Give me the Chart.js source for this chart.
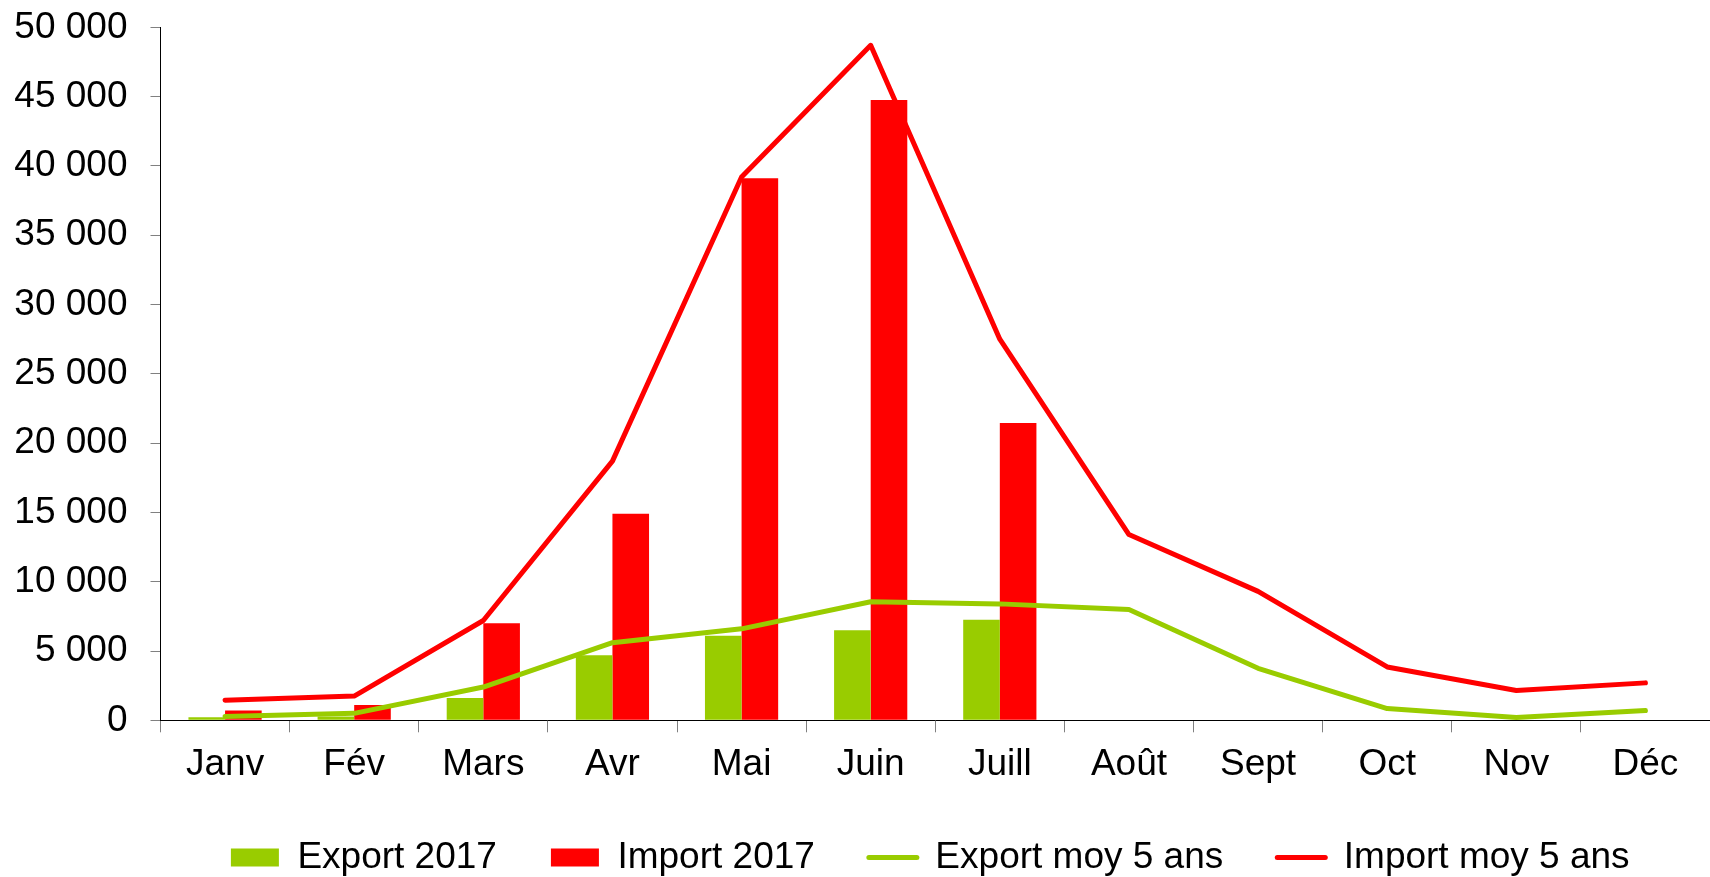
<!DOCTYPE html>
<html>
<head>
<meta charset="utf-8">
<script src="https://cdn.jsdelivr.net/npm/chart.js@4/dist/chart.umd.min.js"></script>
<style>
  html, body { margin: 0; padding: 0; background: #ffffff; overflow: hidden; }
  #wrap { width: 1710px; height: 877px; }
</style>
</head>
<body>
<div id="wrap"><canvas id="c" width="1710" height="877"></canvas></div>
<script>
const months = ['Janv', 'Fév', 'Mars', 'Avr', 'Mai', 'Juin', 'Juill', 'Août', 'Sept', 'Oct', 'Nov', 'Déc'];
const export2017 = [220, 280, 1600, 4700, 6100, 6500, 7250, null, null, null, null, null];
const import2017 = [700, 1100, 7000, 14900, 39100, 44750, 21450, null, null, null, null, null];
const exportMoy5 = [280, 500, 2400, 5600, 6600, 8550, 8400, 8000, 3750, 850, 200, 700];
const importMoy5 = [1450, 1750, 7200, 18700, 39200, 48700, 27500, 13400, 9300, 3850, 2150, 2700];
const yTicks = { min: 0, max: 50000, step: 5000 };

const GREEN = '#99CC00';
const RED = '#FF0000';
const FONT = "'Liberation Sans', Arial, sans-serif";

Chart.defaults.font.family = FONT;
Chart.defaults.color = '#000000';

const defaultGen = Chart.defaults.plugins.legend.labels.generateLabels;

const legendShift = {
  id: 'legendShift',
  afterLayout(chart) {
    if (chart.legend) { chart.legend.left -= 10; }
  }
};

new Chart(document.getElementById('c'), {
  type: 'bar',
  data: {
    labels: months,
    datasets: [
      { type: 'bar', label: 'Export 2017', data: export2017, backgroundColor: GREEN, borderWidth: 0, order: 5 },
      { type: 'bar', label: 'Import 2017', data: import2017, backgroundColor: RED, borderWidth: 0, order: 5 },
      { type: 'line', label: 'Export moy 5 ans', data: exportMoy5, borderColor: GREEN, backgroundColor: GREEN,
        borderWidth: 5, pointRadius: 0, pointHoverRadius: 0, borderCapStyle: 'round', borderJoinStyle: 'round',
        tension: 0, fill: false, order: 1 },
      { type: 'line', label: 'Import moy 5 ans', data: importMoy5, borderColor: RED, backgroundColor: RED,
        borderWidth: 5, pointRadius: 0, pointHoverRadius: 0, borderCapStyle: 'round', borderJoinStyle: 'round',
        tension: 0, fill: false, order: 1 }
    ]
  },
  options: {
    responsive: false,
    animation: false,
    events: [],
    layout: { padding: { top: 27.3, right: -17, bottom: 0, left: 0 } },
    datasets: {
      bar: { categoryPercentage: 0.567, barPercentage: 1.0 }
    },
    scales: {
      x: {
        offset: true,
        grid: { offset: true, drawOnChartArea: false, drawTicks: true, tickLength: 12, color: '#808080', lineWidth: 1 },
        border: { display: true, color: '#000000', width: 1 },
        ticks: { font: { size: 37, family: FONT }, color: '#000000', padding: 10, maxRotation: 0, autoSkip: false },
        afterFit(s) { s.height = 64.7; s.paddingLeft = 0; s.paddingRight = 0; }
      },
      y: {
        min: yTicks.min,
        max: yTicks.max,
        grid: { drawOnChartArea: false, drawTicks: true, tickLength: 10, color: '#808080', lineWidth: 1 },
        border: { display: true, color: '#000000', width: 1 },
        ticks: {
          stepSize: yTicks.step,
          font: { size: 37, family: FONT },
          color: '#000000',
          padding: 23,
          callback: (v) => String(v).replace(/\B(?=(\d{3})+(?!\d))/g, ' ')
        },
        afterFit(s) { s.width = 160.5; s.paddingTop = 0; s.paddingBottom = 0; }
      }
    },
    plugins: {
      tooltip: { enabled: false },
      legend: {
        position: 'bottom',
        fullSize: false,
        maxHeight: 92,
        labels: {
          font: { size: 37, family: FONT },
          color: '#000000',
          padding: 54,
          usePointStyle: true,
          pointStyleWidth: 48,
          boxHeight: 18,
          sort: (a, b) => a.datasetIndex - b.datasetIndex,
          generateLabels(chart) {
            const items = defaultGen(chart);
            items.forEach(it => {
              const ds = chart.data.datasets[it.datasetIndex];
              if (ds.type === 'line') {
                it.pointStyle = 'line';
                it.strokeStyle = ds.borderColor;
                it.fillStyle = ds.borderColor;
                it.lineWidth = 5;
                it.lineCap = 'round';
              } else {
                it.pointStyle = 'rect';
                it.fillStyle = ds.backgroundColor;
                it.strokeStyle = ds.backgroundColor;
                it.lineWidth = 0;
              }
            });
            return items;
          }
        }
      }
    }
  },
  plugins: [legendShift]
});
</script>
</body>
</html>
